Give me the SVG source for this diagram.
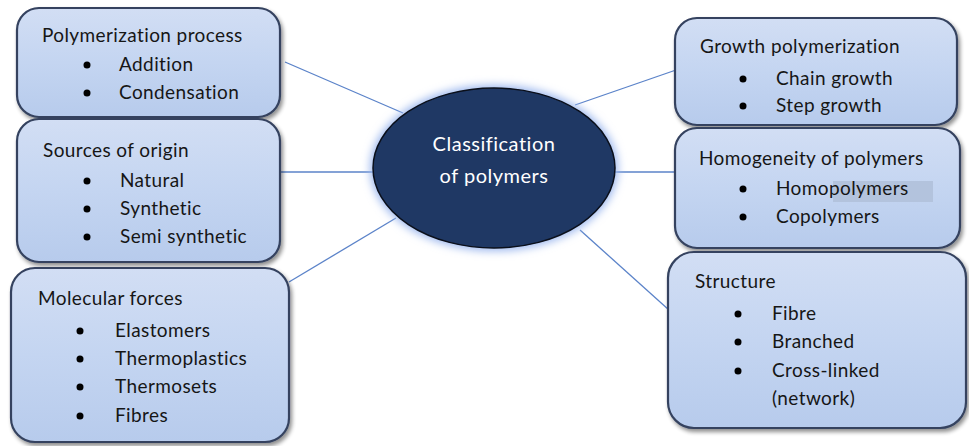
<svg xmlns="http://www.w3.org/2000/svg" width="969" height="446" viewBox="0 0 969 446">
<defs>
<linearGradient id="boxFill" x1="0" y1="0" x2="0" y2="1">
<stop offset="0" stop-color="#d2def4"/>
<stop offset="0.5" stop-color="#c4d5f1"/>
<stop offset="1" stop-color="#b7cbec"/>
</linearGradient>
<filter id="shadow" x="-10%" y="-10%" width="125%" height="125%">
<feGaussianBlur in="SourceAlpha" stdDeviation="2"/>
<feOffset dx="2" dy="3" result="b"/>
<feComponentTransfer><feFuncA type="linear" slope="0.45"/></feComponentTransfer>
<feMerge><feMergeNode/><feMergeNode in="SourceGraphic"/></feMerge>
</filter>
<filter id="glow" x="-20%" y="-20%" width="140%" height="140%">
<feGaussianBlur stdDeviation="4"/>
</filter>
</defs>
<style>
.box{fill:url(#boxFill);stroke:#34425f;stroke-width:2.2;filter:url(#shadow)}
.t{font-family:Lato,"Open Sans","Liberation Sans",sans-serif;font-size:19px;letter-spacing:0.4px;fill:#161616}
.w{font-family:Lato,"Open Sans","Liberation Sans",sans-serif;font-size:20px;letter-spacing:0.5px;fill:#ffffff;text-anchor:middle}
.c{stroke:#5b83c9;stroke-width:1.3;fill:none}
</style>
<rect width="969" height="446" fill="#ffffff"/>
<g id="connectors">
<line class="c" x1="285" y1="62" x2="403" y2="113"/>
<line class="c" x1="280" y1="172" x2="373" y2="172"/>
<line class="c" x1="289" y1="282" x2="396" y2="218"/>
<line class="c" x1="575" y1="105" x2="676" y2="70"/>
<line class="c" x1="615" y1="172" x2="676" y2="172"/>
<line class="c" x1="580" y1="230" x2="669" y2="310"/>
</g>
<g id="center">
<ellipse cx="494" cy="168" rx="124" ry="83" fill="#9db8ee" filter="url(#glow)"/>
<ellipse cx="494" cy="168" rx="121" ry="80" fill="#1f3864" stroke="#0a0f1a" stroke-width="1.5"/>
<text class="w" x="494" y="151">Classification</text>
<text class="w" x="494" y="183">of polymers</text>
</g>
<g id="n1">
<rect class="box" x="17" y="8" width="263" height="109" rx="22"/>
<text class="t" x="42" y="42">Polymerization process</text>
<circle cx="87" cy="65" r="3.5" fill="#000"/>
<text class="t" x="119" y="71">Addition</text>
<circle cx="87" cy="93" r="3.5" fill="#000"/>
<text class="t" x="119" y="99">Condensation</text>
</g>
<g id="n2">
<rect class="box" x="17" y="119" width="263" height="143" rx="22"/>
<text class="t" x="43" y="157">Sources of origin</text>
<circle cx="87" cy="181" r="3.5" fill="#000"/>
<text class="t" x="120" y="187">Natural</text>
<circle cx="87" cy="209" r="3.5" fill="#000"/>
<text class="t" x="120" y="215">Synthetic</text>
<circle cx="87" cy="237" r="3.5" fill="#000"/>
<text class="t" x="120" y="243">Semi synthetic</text>
</g>
<g id="n3">
<rect class="box" x="11" y="268" width="278" height="174" rx="24"/>
<text class="t" x="38" y="305">Molecular forces</text>
<circle cx="80" cy="331" r="3.5" fill="#000"/>
<text class="t" x="115" y="337">Elastomers</text>
<circle cx="80" cy="359" r="3.5" fill="#000"/>
<text class="t" x="115" y="365">Thermoplastics</text>
<circle cx="80" cy="387" r="3.5" fill="#000"/>
<text class="t" x="115" y="393">Thermosets</text>
<circle cx="80" cy="416" r="3.5" fill="#000"/>
<text class="t" x="115" y="422">Fibres</text>
</g>
<g id="n4">
<rect class="box" x="675" y="18" width="282" height="107" rx="22"/>
<text class="t" x="700" y="53">Growth polymerization</text>
<circle cx="743" cy="79" r="3.5" fill="#000"/>
<text class="t" x="776" y="85">Chain growth</text>
<circle cx="743" cy="106" r="3.5" fill="#000"/>
<text class="t" x="776" y="112">Step growth</text>
</g>
<g id="n5">
<rect class="box" x="675" y="128" width="285" height="120" rx="22"/>
<text class="t" x="699" y="165">Homogeneity of polymers</text>
<rect x="833" y="181" width="100" height="21" fill="#b3c3dd"/>
<circle cx="743" cy="189" r="3.5" fill="#000"/>
<text class="t" x="776" y="195">Homopolymers</text>
<circle cx="743" cy="217" r="3.5" fill="#000"/>
<text class="t" x="776" y="223">Copolymers</text>
</g>
<g id="n6">
<rect class="box" x="668" y="252" width="298" height="176" rx="26"/>
<text class="t" x="695" y="288">Structure</text>
<circle cx="738" cy="314" r="3.5" fill="#000"/>
<text class="t" x="772" y="320">Fibre</text>
<circle cx="738" cy="342" r="3.5" fill="#000"/>
<text class="t" x="772" y="348">Branched</text>
<circle cx="738" cy="371" r="3.5" fill="#000"/>
<text class="t" x="772" y="377">Cross-linked</text>
<text class="t" x="772" y="405">(network)</text>
</g>
</svg>
